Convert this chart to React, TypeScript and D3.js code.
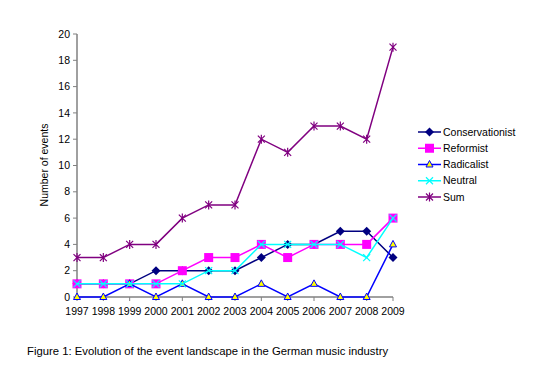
import React from "react";
import * as d3 from "d3";

const years = ["1997", "1998", "1999", "2000", "2001", "2002", "2003", "2004", "2005", "2006", "2007", "2008", "2009"];
const conservationist = [1, 1, 1, 2, 2, 2, 2, 3, 4, 4, 5, 5, 3];
const reformist = [1, 1, 1, 1, 2, 3, 3, 4, 3, 4, 4, 4, 6];
const radicalist = [0, 0, 1, 0, 1, 0, 0, 1, 0, 1, 0, 0, 4];
const neutral = [1, 1, 1, 1, 1, 2, 2, 4, 4, 4, 4, 3, 6];
const sum = [3, 3, 4, 4, 6, 7, 7, 12, 11, 13, 13, 12, 19];
const yTicks = [0, 2, 4, 6, 8, 10, 12, 14, 16, 18, 20];

type Marker = "diamond" | "square" | "triangle" | "x" | "star";

const series: {name: string; values: number[]; color: string; marker: Marker}[] = [
  {name: "Conservationist", values: conservationist, color: "#000080", marker: "diamond"},
  {name: "Reformist", values: reformist, color: "#ff00ff", marker: "square"},
  {name: "Radicalist", values: radicalist, color: "#0000ff", marker: "triangle"},
  {name: "Neutral", values: neutral, color: "#00ffff", marker: "x"},
  {name: "Sum", values: sum, color: "#800080", marker: "star"},
];

const MarkerShape = ({type, x, y, color}: {type: Marker; x: number; y: number; color: string}) => {
  switch (type) {
    case "diamond":
      return <path d={`M${x},${y - 4.5}L${x + 4.5},${y}L${x},${y + 4.5}L${x - 4.5},${y}Z`} fill={color}/>;
    case "square":
      return <rect x={x - 4.5} y={y - 4.5} width={9} height={9} fill={color}/>;
    case "triangle":
      return <path d={`M${x},${y - 4}L${x + 3.5},${y + 2.5}L${x - 3.5},${y + 2.5}Z`} fill="#ffff00" stroke={color} strokeWidth={1}/>;
    case "x":
      return <path d={`M${x - 3.5},${y - 3.5}L${x + 3.5},${y + 3.5}M${x - 3.5},${y + 3.5}L${x + 3.5},${y - 3.5}`} stroke={color} strokeWidth={1.2}/>;
    case "star":
      return <path d={`M${x - 3.5},${y - 3.5}L${x + 3.5},${y + 3.5}M${x - 3.5},${y + 3.5}L${x + 3.5},${y - 3.5}M${x},${y - 4.5}L${x},${y + 4.5}`} stroke={color} strokeWidth={1.2}/>;
  }
};

export default function App() {
  const x = d3.scalePoint<string>().domain(years).range([77, 393]);
  const y = d3.scaleLinear().domain([0, 20]).range([297, 34]);
  const line = d3.line<number>().x((_, i) => x(years[i])!).y(d => y(d));
  const font = "Arial, 'Liberation Sans', sans-serif";
  const legendY = d3.scalePoint<string>().domain(series.map(s => s.name)).range([132, 197]);

  return (
    <svg width={549} height={373} style={{position: "absolute", left: 0, top: 0, background: "#fff"}} fontFamily={font}>
      {/* axes */}
      <line x1={77} x2={77} y1={34} y2={297} stroke="#808080" strokeWidth={1.5}/>
      <line x1={77} x2={393} y1={297} y2={297} stroke="#808080" strokeWidth={1.5}/>
      {yTicks.map(t => (
        <g key={t}>
          <line x1={73} x2={77} y1={y(t)} y2={y(t)} stroke="#808080"/>
          <text x={70} y={y(t)} dy="0.35em" textAnchor="end" fontSize={10.5}>{t}</text>
        </g>
      ))}
      {years.map(yr => (
        <g key={yr}>
          <line x1={x(yr)} x2={x(yr)} y1={297} y2={301} stroke="#808080"/>
          <text x={x(yr)} y={315} textAnchor="middle" fontSize={10.5}>{yr}</text>
        </g>
      ))}
      <text transform="translate(48 165) rotate(-90)" textAnchor="middle" fontSize={10.5}>Number of events</text>

      {series.map(s => (
        <g key={s.name}>
          <path d={line(s.values)!} fill="none" stroke={s.color} strokeWidth={1.5}/>
          {s.values.map((v, i) => (
            <MarkerShape key={i} type={s.marker} x={x(years[i])!} y={y(v)} color={s.color}/>
          ))}
        </g>
      ))}

      {/* legend */}
      {series.map(s => {
        const ly = legendY(s.name)!;
        return (
          <g key={s.name}>
            <line x1={418} x2={441} y1={ly} y2={ly} stroke={s.color} strokeWidth={1.5}/>
            <MarkerShape type={s.marker} x={429.5} y={ly} color={s.color}/>
            <text x={443} y={ly} dy="0.35em" fontSize={10.5}>{s.name}</text>
          </g>
        );
      })}

      <text x={27} y={355} fontSize={11.3}>Figure 1: Evolution of the event landscape in the German music industry</text>
    </svg>
  );
}
